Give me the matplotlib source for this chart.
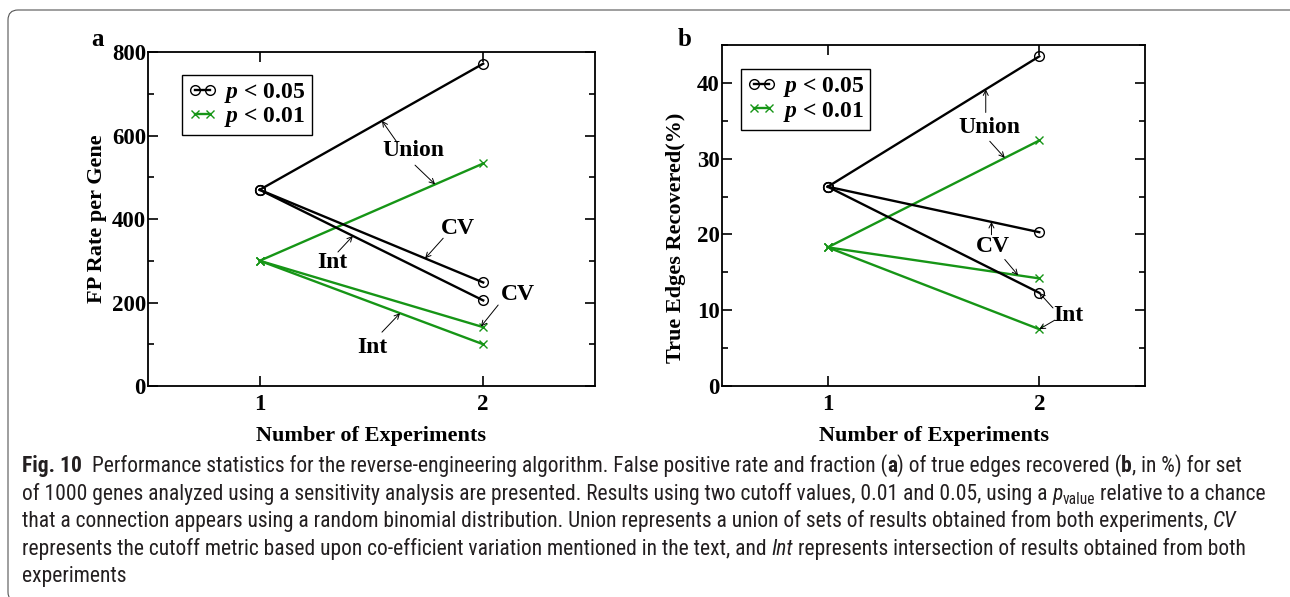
import numpy as np
import matplotlib
matplotlib.use("Agg")
import matplotlib.pyplot as plt
from matplotlib.patches import FancyBboxPatch
from matplotlib.ticker import MultipleLocator
from matplotlib.transforms import IdentityTransform

experiments = [1, 2]

# FP rate per gene, p < 0.05
fp_union_05 = [470, 772]
fp_cv_05 = [470, 248]
fp_int_05 = [470, 205]
# FP rate per gene, p < 0.01
fp_union_01 = [300, 533]
fp_cv_01 = [300, 141]
fp_int_01 = [300, 100]

# true edges recovered (%), p < 0.05
te_union_05 = [26.3, 43.5]
te_cv_05 = [26.3, 20.3]
te_int_05 = [26.3, 12.3]
# true edges recovered (%), p < 0.01
te_union_01 = [18.3, 32.4]
te_cv_01 = [18.3, 14.2]
te_int_01 = [18.3, 7.5]

GREEN = "#169516"
SERIF = "Liberation Serif"
CAP_FONT = ["Roboto Condensed", "Open Sans"]

plt.rcParams.update({
    "font.family": SERIF,
    "font.weight": "bold",
    "axes.labelweight": "bold",
    "mathtext.fontset": "custom",
    "mathtext.it": "Liberation Serif:italic:bold",
    "mathtext.rm": "Liberation Serif:bold",
})

fig = plt.figure(figsize=(12.9, 5.97), dpi=100)
ax_a = fig.add_axes([0.1147, 0.3534, 0.3465, 0.5595])
ax_b = fig.add_axes([0.5597, 0.3534, 0.3279, 0.5712])


def draw_series(ax, lines05, lines01):
    for i, vals in enumerate(lines05):
        ax.plot(experiments, vals, color="black", lw=1.7, marker="o", ms=7,
                mfc="none", mec="black", mew=1.0,
                label="$p$ < 0.05" if i == 0 else None, zorder=3)
    for i, vals in enumerate(lines01):
        ax.plot(experiments, vals, color=GREEN, lw=1.7, marker="x", ms=5.5,
                mew=1.0, label="$p$ < 0.01" if i == 0 else None, zorder=2)


def style_axes(ax, ymax, ymajor, yminor, ylabel, ylabel_xy):
    ax.set_xlim(0.5, 2.5)
    ax.set_ylim(0, ymax)
    ax.set_xticks(experiments)
    ax.yaxis.set_major_locator(MultipleLocator(ymajor))
    ax.yaxis.set_minor_locator(MultipleLocator(yminor))
    ax.tick_params(which="both", direction="in", top=True, right=True,
                   width=1.2, labelsize=16.5, pad=1.5)
    ax.tick_params(which="major", length=7)
    ax.tick_params(which="minor", length=4)
    ax.tick_params(axis="x", pad=6)
    for sp in ax.spines.values():
        sp.set_linewidth(1.3)
    ax.set_xlabel("Number of Experiments", fontsize=16, labelpad=8)
    ax.set_ylabel(ylabel, fontsize=16)
    ax.yaxis.set_label_coords(*ylabel_xy)


def arrow(ax, values, x_tip, start):
    y_tip = np.interp(x_tip, experiments, values)
    ax.annotate("", xy=(x_tip, y_tip), xytext=start,
                arrowprops=dict(arrowstyle="->", lw=0.7, color="black",
                                mutation_scale=9, shrinkA=0, shrinkB=0))


def label(ax, x, y, s):
    ax.text(x, y, s, fontsize=17, ha="center", va="center")


def add_legend(ax, anchor):
    leg = ax.legend(loc="upper left", bbox_to_anchor=anchor, borderaxespad=0,
                    fancybox=False, edgecolor="black", framealpha=1,
                    handlelength=1.25, numpoints=2, handletextpad=0.3,
                    borderpad=0.25, labelspacing=0.02,
                    prop=dict(family=SERIF, weight="bold", size=17))
    leg.get_frame().set_linewidth(1.0)


# panel a: false positives
draw_series(ax_a, [fp_union_05, fp_cv_05, fp_int_05], [fp_union_01, fp_cv_01, fp_int_01])
style_axes(ax_a, 800, 200, 100, "FP Rate per Gene", (-0.092, 0.5))
add_legend(ax_a, (0.076, 0.931))
label(ax_a, 1.686, 563, "Union")
arrow(ax_a, fp_union_05, 1.547, (1.614, 584))
arrow(ax_a, fp_union_01, 1.785, (1.695, 529))
label(ax_a, 1.888, 378, "CV")
arrow(ax_a, fp_cv_05, 1.74, (1.821, 354))
label(ax_a, 1.327, 295, "Int")
arrow(ax_a, fp_int_05, 1.417, (1.350, 321))
label(ax_a, 2.157, 218, "CV")
arrow(ax_a, fp_cv_01, 1.99, (2.067, 194))
label(ax_a, 1.502, 93, "Int")
arrow(ax_a, fp_int_01, 1.628, (1.547, 129))

# panel b: recovered edges
draw_series(ax_b, [te_union_05, te_cv_05, te_int_05], [te_union_01, te_cv_01, te_int_01])
style_axes(ax_b, 45, 10, 5, "True Edges Recovered(%)", (-0.085, 0.434))
add_legend(ax_b, (0.044, 0.929))
label(ax_b, 1.766, 34.1, "Union")
arrow(ax_b, te_union_05, 1.747, (1.747, 36.1))
arrow(ax_b, te_union_01, 1.837, (1.766, 32.3))
label(ax_b, 1.782, 18.4, "CV")
arrow(ax_b, te_cv_05, 1.774, (1.774, 19.96))
arrow(ax_b, te_cv_01, 1.9, (1.837, 16.7))
label(ax_b, 2.137, 9.25, "Int")
arrow(ax_b, te_int_05, 2.0, (2.065, 10.3))
arrow(ax_b, te_int_01, 2.0, (2.074, 8.7))

fig.text(98 / 1290, 1 - 40 / 597, "a", fontsize=18, ha="center", va="center")
fig.text(685 / 1290, 1 - 40 / 597, "b", fontsize=18, ha="center", va="center")

# rounded frame around the figure block (right side runs off the canvas)
fig.patches.append(FancyBboxPatch((8, -5), 1400, 592, boxstyle="round,pad=0,rounding_size=10",
                                  transform=IdentityTransform(), fill=False,
                                  edgecolor="#555555", lw=0.8))

# caption, written segment by segment so bold/italic parts line up
CAP_SIZE = 15.5
CAP_COLOR = "#231f20"
renderer = fig.canvas.get_renderer()


def text_width(s, **kw):
    t = fig.text(0, 0, s, transform=IdentityTransform(), **kw)
    w = t.get_window_extent(renderer).width
    t.remove()
    return w


base_kw = dict(fontsize=CAP_SIZE, family=CAP_FONT, weight="normal", color=CAP_COLOR)
space_w = text_width("a a", **base_kw) - text_width("aa", **base_kw)


def caption_line(y_top, segments, x0=22):
    x = x0
    y = 597 - y_top
    for s, style in segments:
        if s == " ":
            x += space_w
            continue
        kw = dict(base_kw)
        dy = 0
        if style == "b":
            kw["weight"] = "bold"
        elif style == "i":
            kw["style"] = "italic"
        elif style == "sub":
            kw["fontsize"] = CAP_SIZE * 0.72
            dy = -4
        t = fig.text(x, y + dy, s, transform=IdentityTransform(), va="baseline", **kw)
        x += t.get_window_extent(renderer).width


caption_line(472, [("Fig. 10", "b"), (" ", ""), (" ", ""),
                   ("Performance statistics for the reverse-engineering algorithm. False positive rate and fraction (", "r"),
                   ("a", "b"), (") of true edges recovered (", "r"), ("b", "b"), (", in %) for set", "r")])
caption_line(500, [("of 1000 genes analyzed using a sensitivity analysis are presented. Results using two cutoff values, 0.01 and 0.05, using a", "r"),
                   (" ", ""), ("p", "i"), ("value", "sub"), (" ", ""), ("relative to a chance", "r")])
caption_line(527, [("that a connection appears using a random binomial distribution. Union represents a union of sets of results obtained from both experiments,", "r"),
                   (" ", ""), ("CV", "i")])
caption_line(555, [("represents the cutoff metric based upon co-efficient variation mentioned in the text, and", "r"),
                   (" ", ""), ("Int", "i"), (" ", ""),
                   ("represents intersection of results obtained from both", "r")])
caption_line(582, [("experiments", "r")])

fig.savefig("out.png", dpi=100)
